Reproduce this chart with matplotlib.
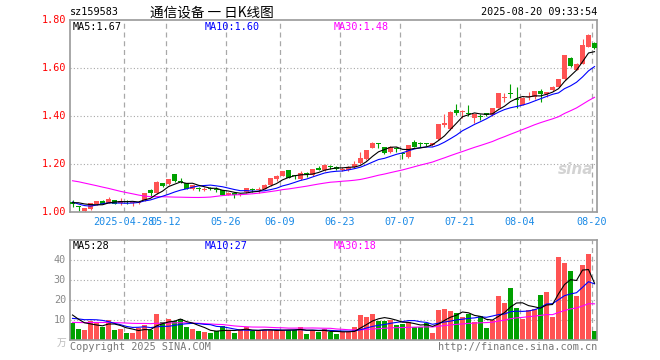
import numpy as np
import matplotlib
matplotlib.use('Agg')
import matplotlib.pyplot as plt

plt.rcParams['font.family'] = ['DejaVu Sans Mono', 'Noto Sans CJK SC']

# ---- data ----
# daily candles, 2025-04-15 .. 2025-08-20 (index 0..87)
opens = [1.042, 1.022, 1.004, 1.013, 1.035, 1.047, 1.039, 1.049, 1.037, 1.045,
         1.037, 1.038, 1.049, 1.092, 1.078, 1.121, 1.115, 1.158, 1.127, 1.120,
         1.094, 1.099, 1.092, 1.098, 1.096, 1.090, 1.072, 1.080, 1.069, 1.083,
         1.095, 1.090, 1.097, 1.112, 1.139, 1.150, 1.175, 1.152, 1.139, 1.160,
         1.153, 1.182, 1.173, 1.192, 1.186, 1.176, 1.175, 1.186, 1.203, 1.221,
         1.268, 1.286, 1.269, 1.250, 1.266, 1.245, 1.229, 1.293, 1.285, 1.285,
         1.279, 1.305, 1.364, 1.346, 1.425, 1.417, 1.412, 1.390, 1.400, 1.411,
         1.404, 1.435, 1.474, 1.496, 1.469, 1.446, 1.478, 1.480, 1.504, 1.493,
         1.508, 1.522, 1.554, 1.640, 1.592, 1.617, 1.689, 1.703]
highs = [1.048, 1.026, 1.016, 1.037, 1.047, 1.048, 1.061, 1.050, 1.058, 1.049,
         1.047, 1.045, 1.080, 1.097, 1.128, 1.122, 1.139, 1.159, 1.143, 1.121,
         1.113, 1.106, 1.103, 1.103, 1.106, 1.092, 1.083, 1.082, 1.080, 1.101,
         1.099, 1.103, 1.116, 1.143, 1.155, 1.171, 1.176, 1.156, 1.172, 1.166,
         1.181, 1.190, 1.198, 1.197, 1.190, 1.186, 1.192, 1.212, 1.249, 1.259,
         1.291, 1.287, 1.272, 1.276, 1.270, 1.249, 1.281, 1.300, 1.292, 1.288,
         1.288, 1.368, 1.410, 1.419, 1.448, 1.423, 1.446, 1.409, 1.410, 1.413,
         1.434, 1.496, 1.494, 1.532, 1.521, 1.478, 1.501, 1.506, 1.512, 1.502,
         1.524, 1.556, 1.656, 1.645, 1.619, 1.721, 1.743, 1.710]
lows = [1.022, 1.003, 1.001, 1.008, 1.031, 1.034, 1.037, 1.034, 1.030, 1.033,
        1.026, 1.034, 1.046, 1.068, 1.076, 1.105, 1.113, 1.126, 1.119, 1.095,
        1.092, 1.088, 1.088, 1.090, 1.082, 1.070, 1.069, 1.057, 1.067, 1.081,
        1.083, 1.078, 1.095, 1.110, 1.131, 1.148, 1.141, 1.139, 1.135, 1.147,
        1.150, 1.174, 1.171, 1.180, 1.175, 1.172, 1.172, 1.183, 1.200, 1.218,
        1.266, 1.268, 1.240, 1.247, 1.250, 1.221, 1.226, 1.270, 1.272, 1.276,
        1.277, 1.300, 1.356, 1.343, 1.403, 1.390, 1.401, 1.372, 1.383, 1.400,
        1.402, 1.433, 1.458, 1.474, 1.432, 1.444, 1.467, 1.470, 1.460, 1.480,
        1.505, 1.520, 1.550, 1.605, 1.590, 1.615, 1.686, 1.679]
closes = [1.034, 1.019, 1.015, 1.036, 1.046, 1.035, 1.056, 1.035, 1.046, 1.043,
          1.042, 1.043, 1.079, 1.078, 1.126, 1.108, 1.138, 1.128, 1.125, 1.097,
          1.111, 1.096, 1.097, 1.095, 1.093, 1.072, 1.080, 1.069, 1.077, 1.100,
          1.092, 1.093, 1.114, 1.142, 1.151, 1.169, 1.143, 1.149, 1.162, 1.157,
          1.179, 1.176, 1.196, 1.189, 1.178, 1.180, 1.189, 1.200, 1.224, 1.257,
          1.289, 1.284, 1.247, 1.272, 1.262, 1.240, 1.279, 1.272, 1.282, 1.283,
          1.286, 1.366, 1.369, 1.417, 1.413, 1.420, 1.407, 1.407, 1.396, 1.404,
          1.432, 1.494, 1.478, 1.492, 1.466, 1.476, 1.482, 1.504, 1.490, 1.499,
          1.522, 1.554, 1.654, 1.608, 1.617, 1.696, 1.7375, 1.682]
# volume, 万
volumes = [8.5, 5.5, 5.0, 9.3, 9.2, 6.5, 10.0, 5.0, 5.5, 3.5,
           3.4, 6.2, 7.5, 5.1, 13.0, 9.0, 10.5, 9.4, 10.5, 6.6,
           5.5, 4.6, 4.0, 3.5, 4.5, 7.0, 5.2, 3.5, 5.2, 6.3,
           4.5, 4.5, 5.0, 5.0, 5.0, 5.0, 5.0, 5.0, 6.5, 3.0,
           5.0, 4.0, 5.5, 4.0, 3.0, 4.0, 4.0, 6.5, 12.5, 11.5,
           13.0, 9.5, 9.5, 10.0, 7.5, 8.0, 9.0, 6.5, 6.5, 8.5,
           3.5, 15.0, 15.5, 14.5, 13.5, 11.5, 13.0, 9.0, 12.0, 6.0,
           10.0, 22.0, 18.5, 26.0, 16.0, 10.5, 15.0, 15.5, 22.5, 24.0,
           11.7, 41.7, 38.7, 34.7, 22.0, 37.7, 43.0, 4.7]
# 29 sessions before the window (only feed the moving averages)
prev_closes = [1.14, 1.18, 1.20, 1.21, 1.21, 1.22, 1.22, 1.23, 1.20, 1.19,
               1.20, 1.21, 1.145, 1.125, 1.125, 1.155, 1.155, 1.135, 1.115, 1.125,
               1.10, 1.08, 1.06, 1.00, 0.98, 1.02, 1.04, 1.05, 1.05]
prev_volumes = [7, 7, 8, 8, 7, 8, 9, 8, 7, 8, 8, 7, 8, 8, 7, 8, 8, 8, 9, 8,
                8, 9, 9, 10, 9.5, 16, 14, 12, 12]

date_ticks = [9, 16, 26, 35, 45, 55, 65, 75, 87]
date_labels = ['2025-04-28', '05-12', '05-26', '06-09', '06-23',
               '07-07', '07-21', '08-04', '08-20']
price_ticks = [1.00, 1.20, 1.40, 1.60, 1.80]
vol_ticks = [10, 20, 30, 40]

RED = '#ff5353'
GREEN = '#00a000'
GRID = '#a8a8a8'


def ma(prev, vals, n):
    s = np.array(prev + vals, dtype=float)
    out = np.convolve(s, np.ones(n) / n, mode='valid')
    return out[-len(vals):]


W, H = 660, 360
fig = plt.figure(figsize=(W / 100, H / 100), dpi=100)
fig.patch.set_facecolor('white')


def box(l, t, r, b):
    return [l / W, 1 - b / H, (r - l) / W, (b - t) / H]


def ftext(x, y, s, **kw):
    fig.text(x / W, 1 - y / H, s, **kw)


n = len(closes)
x = np.arange(n)
xmin, xmax = -2.5 / 6, (597 - 72.5) / 6
colors = [RED if c >= o else GREEN for o, c in zip(opens, closes)]

# ---- price panel ----
ax = fig.add_axes(box(70, 20, 597, 212))
ax.set_xlim(xmin, xmax)
ax.set_ylim(1.0, 1.8)
for p in price_ticks[1:-1]:
    ax.axhline(p, color=GRID, lw=0.8, ls=(0, (1, 2)), zorder=0)
for t in date_ticks:
    ax.axvline(t - 0.4, color=GRID, lw=0.9, ls=(0, (4, 3)), zorder=0)

ax.vlines(x, lows, highs, colors=colors, lw=0.8, zorder=2)
body_lo = np.minimum(opens, closes)
body_h = np.maximum(np.abs(np.array(closes) - np.array(opens)), 0.004)
ax.bar(x, body_h, bottom=body_lo, width=0.8, color=colors, lw=0, zorder=3)

ax.plot(x, ma(prev_closes, closes, 30), color='#ff00ff', lw=0.8, zorder=4)
ax.plot(x, ma(prev_closes, closes, 10), color='#0000ff', lw=0.8, zorder=4)
ax.plot(x, ma(prev_closes, closes, 5), color='black', lw=0.8, zorder=5)

ax.set_xticks([])
ax.set_yticks([])
for s in ax.spines.values():
    s.set_color('#9a9a9a')
    s.set_linewidth(1.2)

for p in price_ticks:
    ftext(66, 212 - (p - 1.0) * 240, f'{p:.2f}', color='red', fontsize=7.3,
          ha='right', va='center')
for t, lab in zip(date_ticks, date_labels):
    xp = 70 + 6 * t
    ftext(xp, 222, lab, color='#1a8ae6', fontsize=7.3, ha='center', va='center')

ftext(73, 27, 'MA5:1.67', color='black', fontsize=7.3, va='center')
ftext(205, 27, 'MA10:1.60', color='#0000ff', fontsize=7.3, va='center')
ftext(334, 27, 'MA30:1.48', color='#ff00ff', fontsize=7.3, va='center')

ftext(70, 12, 'sz159583', color='black', fontsize=7.3, va='center')
ftext(150, 12, '通信设备 一 日K线图', color='black', fontsize=9.8, va='center',
      family=['Noto Sans CJK SC', 'DejaVu Sans'])
ftext(597, 12, '2025-08-20 09:33:54', color='black', fontsize=7.3,
      ha='right', va='center')
ftext(576, 170, 'sina', color='#c8c8c8', fontsize=11, ha='center', va='center',
      style='italic', weight='bold', family=['DejaVu Sans'], alpha=0.8)

# ---- volume panel ----
av = fig.add_axes(box(70, 240, 597, 340))
av.set_xlim(xmin, xmax)
av.set_ylim(0, 50)
for v in vol_ticks:
    av.axhline(v, color=GRID, lw=0.8, ls=(0, (1, 2)), zorder=0)
for t in date_ticks:
    av.axvline(t - 0.4, color=GRID, lw=0.9, ls=(0, (4, 3)), zorder=0)
av.bar(x, volumes, width=0.85, color=colors, lw=0, zorder=2)
av.plot(x, ma(prev_volumes, volumes, 30), color='#ff00ff', lw=0.8, zorder=3)
av.plot(x, ma(prev_volumes, volumes, 10), color='#0000ff', lw=0.8, zorder=3)
av.plot(x, ma(prev_volumes, volumes, 5), color='black', lw=0.8, zorder=4)
av.set_xticks([])
av.set_yticks([])
for s in av.spines.values():
    s.set_color('#9a9a9a')
    s.set_linewidth(1.2)

for v in vol_ticks:
    ftext(66, 340 - v * 2, str(v), color='#888888', fontsize=7.3,
          ha='right', va='center')
ftext(66, 343, '万', color='#bbbbbb', fontsize=7, ha='right', va='center',
      family=['Noto Sans CJK SC', 'DejaVu Sans'])
ftext(73, 246, 'MA5:28', color='black', fontsize=7.3, va='center')
ftext(205, 246, 'MA10:27', color='#0000ff', fontsize=7.3, va='center')
ftext(334, 246, 'MA30:18', color='#ff00ff', fontsize=7.3, va='center')

ftext(70, 347, 'Copyright 2025 SINA.COM', color='#777777', fontsize=7.3, va='center')
ftext(597, 347, 'http://finance.sina.com.cn', color='#777777', fontsize=7.3,
      ha='right', va='center')

fig.savefig('out.png', dpi=100)
